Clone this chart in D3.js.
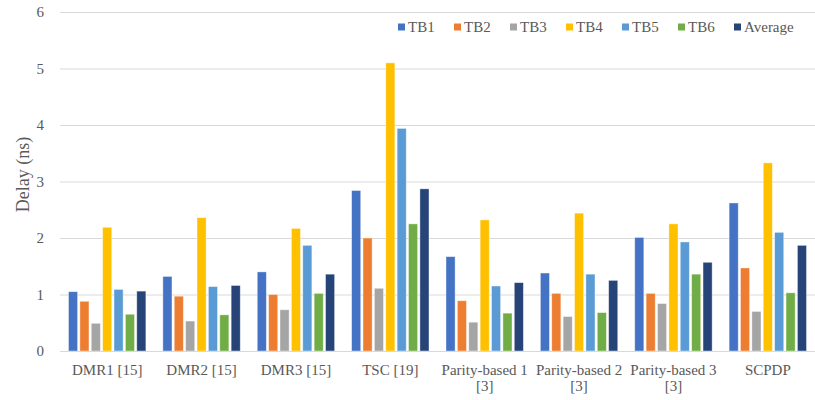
<!DOCTYPE html>
<meta charset="utf-8">
<script src="https://d3js.org/d3.v7.min.js"></script>
<style>
  body { margin: 0px; background: #fff; }
  text { font-family: "Liberation Serif", "Times New Roman", serif; }
  .tick text { fill: #595959; font-size: 15px; }
  .axis-label { fill: #595959; font-size: 18px; }
</style>
<div id="my_dataviz"></div>
<script>

// chart data
const categories = ["DMR1 [15]", "DMR2 [15]", "DMR3 [15]", "TSC [19]",
  "Parity-based 1 [3]", "Parity-based 2 [3]", "Parity-based 3 [3]", "SCPDP"];
const seriesNames = ["TB1", "TB2", "TB3", "TB4", "TB5", "TB6", "Average"];
const TB1 = [1.05, 1.32, 1.40, 2.84, 1.67, 1.38, 2.01, 2.62];
const TB2 = [0.88, 0.97, 1.00, 2.00, 0.89, 1.02, 1.02, 1.47];
const TB3 = [0.49, 0.53, 0.73, 1.11, 0.51, 0.61, 0.84, 0.70];
const TB4 = [2.19, 2.36, 2.17, 5.10, 2.32, 2.44, 2.25, 3.33];
const TB5 = [1.09, 1.14, 1.87, 3.94, 1.15, 1.36, 1.93, 2.10];
const TB6 = [0.65, 0.64, 1.02, 2.25, 0.67, 0.68, 1.36, 1.03];
const Average = [1.06, 1.16, 1.36, 2.87, 1.21, 1.25, 1.57, 1.87];
const yTicks = [0, 1, 2, 3, 4, 5, 6];
const colors = ["#4472C4", "#ED7D31", "#A5A5A5", "#FFC000", "#5B9BD5", "#70AD47", "#264478"];

const seriesValues = [TB1, TB2, TB3, TB4, TB5, TB6, Average];

var margin = {top: 12, right: 0, bottom: 49, left: 60},
    width = 815 - margin.left - margin.right,
    height = 400 - margin.top - margin.bottom;

var svg = d3.select("#my_dataviz")
  .append("svg")
    .attr("width", width + margin.left + margin.right)
    .attr("height", height + margin.top + margin.bottom)
  .append("g")
    .attr("transform", "translate(" + margin.left + "," + margin.top + ")");

// scales
var x = d3.scaleBand()
    .domain(categories)
    .range([0, width])
    .paddingInner(0.18)
    .paddingOuter(0.09);

var xSub = d3.scaleBand()
    .domain(seriesNames)
    .range([0, x.bandwidth()])
    .paddingInner(0.2);

var y = d3.scaleLinear()
    .domain([0, 6])
    .range([height, 0]);

// gridlines + y labels
var yAxis = svg.append("g")
    .call(d3.axisLeft(y).tickValues(yTicks).tickFormat(d3.format("d")).tickSize(-width).tickPadding(16));
yAxis.attr("font-family", "Liberation Serif, serif");
yAxis.select(".domain").remove();
yAxis.selectAll(".tick line").attr("stroke", "#d9d9d9").attr("stroke-width", 1);

// bars
var groups = svg.selectAll(".grp")
  .data(categories)
  .enter()
  .append("g")
    .attr("transform", function(d) { return "translate(" + x(d) + ",0)"; });

groups.selectAll("rect")
  .data(function(d, i) { return seriesNames.map(function(s, j) { return {s: s, v: seriesValues[j][i], c: colors[j]}; }); })
  .enter()
  .append("rect")
    .attr("x", function(d) { return xSub(d.s); })
    .attr("y", function(d) { return y(d.v); })
    .attr("width", xSub.bandwidth())
    .attr("height", function(d) { return height - y(d.v); })
    .style("fill", function(d) { return d.c; })
    .style("stroke", "#ffffff")
    .style("stroke-opacity", 0.5)
    .style("stroke-width", 0.8);

// x axis
var xAxisG = svg.append("g")
    .attr("transform", "translate(0," + height + ")")
    .call(d3.axisBottom(x).tickSize(0).tickPadding(13));
xAxisG.attr("font-family", "Liberation Serif, serif");
xAxisG.select(".domain").attr("stroke", "#d9d9d9");
xAxisG.selectAll(".tick text").call(wrap, x.bandwidth() + 14);

function wrap(text, w) {
  text.each(function() {
    var t = d3.select(this),
        words = t.text().split(/\s+/),
        line = [],
        lineNo = 0,
        yy = t.attr("y"),
        dy = parseFloat(t.attr("dy")),
        tspan = t.text(null).append("tspan").attr("x", 0).attr("y", yy).attr("dy", dy + "em");
    words.forEach(function(word) {
      line.push(word);
      tspan.text(line.join(" "));
      if (tspan.node().getComputedTextLength() > w && line.length > 1) {
        line.pop();
        tspan.text(line.join(" "));
        line = [word];
        tspan = t.append("tspan").attr("x", 0).attr("y", yy)
          .attr("dy", (++lineNo * 1.1 + dy) + "em").text(word);
      }
    });
  });
}

// y title
svg.append("text")
  .attr("class", "axis-label")
  .attr("transform", "rotate(-90)")
  .attr("x", -height / 2 + 7)
  .attr("y", -31)
  .style("text-anchor", "middle")
  .text("Delay (ns)");

// legend
var legend = svg.selectAll(".legend")
  .data(seriesNames)
  .enter()
  .append("g")
    .attr("transform", function(d, i) { return "translate(" + (338 + i * 56) + ",15)"; });
legend.append("rect").attr("x", 0).attr("y", -3.5).attr("width", 7).attr("height", 7)
  .style("fill", function(d, i) { return colors[i]; });
legend.append("text").attr("x", 10).attr("y", 0).attr("dy", "0.35em")
  .style("font-size", "15px").style("fill", "#595959")
  .text(function(d) { return d; });

</script>
